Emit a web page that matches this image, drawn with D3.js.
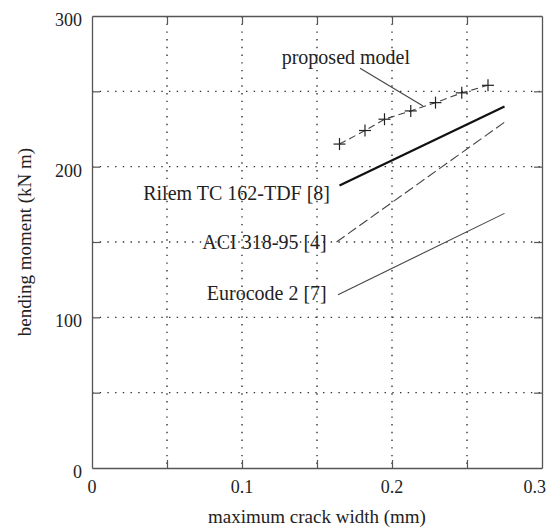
<!DOCTYPE html>
<html>
<head>
<meta charset="utf-8">
<script src="https://cdn.jsdelivr.net/npm/d3@7"></script>
<style>
  body { margin: 0; background: #fff; }
  text { font-family: "Liberation Serif", "Times New Roman", serif; fill: #222; }
</style>
</head>
<body>
<div id="chart"></div>
<script>
// Tick values
const xTicksMajor = [0, 0.1, 0.2, 0.3];
const xTicksMinor = [0.05, 0.1, 0.15, 0.2, 0.25];
const yTicksMajor = [0, 100, 200, 300];
const yTicksMinor = [50, 100, 150, 200, 250];

// Proposed model (crosses joined by dashed line)
const proposedX = [0.165, 0.182, 0.195, 0.2125, 0.229, 0.2465, 0.264];
const proposedY = [215, 224, 231.5, 237, 242.5, 249, 254];

// Code predictions
const rilemX = [0.165, 0.275];
const rilemY = [187.5, 240];
const aciX = [0.163, 0.275];
const aciY = [150, 229.5];
const eurocodeX = [0.164, 0.275];
const eurocodeY = [115, 169];

// Labels
const labelNames = ["Rilem TC 162-TDF [8]", "ACI 318-95 [4]", "Eurocode 2 [7]", "proposed model"];
const labelX = [0.1587, 0.1565, 0.1565, 0.212];
const labelY = [178, 145.5, 111.5, 268];
const leaderX = [0.1787, 0.2207];
const leaderY = [265.3, 240.3];

const W = 547, H = 529;
const margin = { top: 16, right: 5, bottom: 61, left: 92 };
const width = W - margin.left - margin.right;
const height = H - margin.top - margin.bottom;

const svg = d3.select("#chart").append("svg")
    .attr("width", W)
    .attr("height", H);

const g = svg.append("g")
    .attr("transform", `translate(${margin.left},${margin.top})`);

const x = d3.scaleLinear().domain([0, 0.3]).range([0, width]);
const y = d3.scaleLinear().domain([0, 300]).range([height, 0]);

// dotted grid
g.selectAll(".vgrid").data(xTicksMinor).enter().append("line")
    .attr("x1", d => x(d)).attr("x2", d => x(d))
    .attr("y1", 0).attr("y2", height)
    .attr("stroke", "#333").attr("stroke-width", 1.4)
    .attr("stroke-dasharray", "1.4,6.3");

g.selectAll(".hgrid").data(yTicksMinor).enter().append("line")
    .attr("y1", d => y(d)).attr("y2", d => y(d))
    .attr("x1", 0).attr("x2", width)
    .attr("stroke", "#333").attr("stroke-width", 1.4)
    .attr("stroke-dasharray", "1.4,6.3");

// frame with inward ticks on all sides
const tickLen = 8;
const axisColor = "#555";
g.append("g").attr("transform", `translate(0,${height})`)
    .call(d3.axisBottom(x).tickValues(xTicksMinor).tickSizeInner(-tickLen).tickSizeOuter(0).tickFormat(""));
g.append("g")
    .call(d3.axisTop(x).tickValues(xTicksMinor).tickSizeInner(-tickLen).tickSizeOuter(0).tickFormat(""));
g.append("g")
    .call(d3.axisLeft(y).tickValues(yTicksMinor).tickSizeInner(-tickLen).tickSizeOuter(0).tickFormat(""));
g.append("g").attr("transform", `translate(${width},0)`)
    .call(d3.axisRight(y).tickValues(yTicksMinor).tickSizeInner(-tickLen).tickSizeOuter(0).tickFormat(""));
g.selectAll(".domain").attr("stroke", axisColor).attr("stroke-width", 1.3);
g.selectAll(".tick line").attr("stroke", axisColor).attr("stroke-width", 1.2);

// tick labels (last one pulled in so it stays inside the page)
g.selectAll(".xlab").data(xTicksMajor).enter().append("text")
    .attr("x", (d, i) => i === xTicksMajor.length - 1 ? x(d) + 4 : x(d))
    .attr("y", height + 25)
    .attr("text-anchor", (d, i) => i === xTicksMajor.length - 1 ? "end" : "middle")
    .attr("font-size", 18)
    .text(d => d3.format("")(d));

g.selectAll(".ylab").data(yTicksMajor).enter().append("text")
    .attr("x", -10).attr("y", d => y(d) + 10)
    .attr("text-anchor", "end").attr("font-size", 18)
    .text(d => d);

// axis titles
g.append("text")
    .attr("x", width / 2).attr("y", height + 55)
    .attr("text-anchor", "middle").attr("font-size", 19)
    .text("maximum crack width (mm)");

g.append("text")
    .attr("transform", `translate(${31 - margin.left},${height / 2}) rotate(-90)`)
    .attr("text-anchor", "middle").attr("font-size", 19)
    .text("bending moment (kN m)");

// series
const line = d3.line().x(d => x(d[0])).y(d => y(d[1]));
const pairs = (xs, ys) => xs.map((v, i) => [v, ys[i]]);

g.append("path").datum(pairs(eurocodeX, eurocodeY))
    .attr("d", line).attr("fill", "none")
    .attr("stroke", "#444").attr("stroke-width", 1.1);

g.append("path").datum(pairs(aciX, aciY))
    .attr("d", line).attr("fill", "none")
    .attr("stroke", "#444").attr("stroke-width", 1.1)
    .attr("stroke-dasharray", "10,4");

g.append("path").datum(pairs(rilemX, rilemY))
    .attr("d", line).attr("fill", "none")
    .attr("stroke", "#111").attr("stroke-width", 2.2);

g.append("path").datum(pairs(proposedX, proposedY))
    .attr("d", line).attr("fill", "none")
    .attr("stroke", "#444").attr("stroke-width", 1.1)
    .attr("stroke-dasharray", "7,4");

const crossSize = 6;
const crosses = g.selectAll(".cross").data(pairs(proposedX, proposedY)).enter().append("g")
    .attr("transform", d => `translate(${x(d[0])},${y(d[1])})`);
crosses.append("line").attr("x1", -crossSize).attr("x2", crossSize)
    .attr("stroke", "#222").attr("stroke-width", 1.2);
crosses.append("line").attr("y1", -crossSize).attr("y2", crossSize)
    .attr("stroke", "#222").attr("stroke-width", 1.2);

// labels
g.selectAll(".serieslabel").data(labelNames).enter().append("text")
    .attr("x", (d, i) => x(labelX[i])).attr("y", (d, i) => y(labelY[i]))
    .attr("text-anchor", "end").attr("font-size", 20)
    .text(d => d);

g.append("path").datum(pairs(leaderX, leaderY))
    .attr("d", line).attr("fill", "none")
    .attr("stroke", "#444").attr("stroke-width", 1.1);
</script>
</body>
</html>
